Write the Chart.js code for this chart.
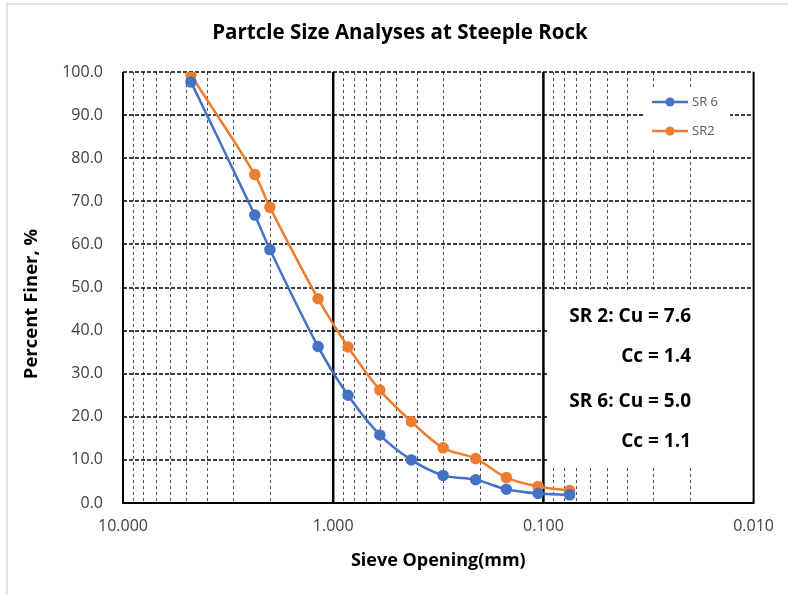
<!DOCTYPE html>
<html><head><meta charset="utf-8">
<script src="https://cdn.jsdelivr.net/npm/chart.js@4"></script>
<style>html,body{margin:0;padding:0;background:#fff;}canvas{display:block;}</style>
</head><body>
<canvas id="c" width="788" height="595"></canvas>
<script>
// ---- data ----
const sieveSizes = [4.75, 2.36, 2.0, 1.18, 0.85, 0.60, 0.425, 0.30, 0.21, 0.15, 0.106, 0.075];
const sr6Values  = [97.7, 66.8, 58.8, 36.3, 25.0, 15.8, 10.0, 6.4, 5.4, 3.2, 2.2, 1.9];
const sr2Values  = [99.3, 76.2, 68.6, 47.4, 36.2, 26.2, 18.9, 12.8, 10.3, 5.9, 3.85, 2.9];
const seriesNames = ['SR 6', 'SR2'];
const xTickValues = [10, 1, 0.1, 0.01];
const xTickLabels = ['10.000', '1.000', '0.100', '0.010'];
const yTickValues = [0, 10, 20, 30, 40, 50, 60, 70, 80, 90, 100];
const yTickLabels = ['0.0', '10.0', '20.0', '30.0', '40.0', '50.0', '60.0', '70.0', '80.0', '90.0', '100.0'];
const noteLines = ['SR 2: Cu = 7.6', 'Cc = 1.4', 'SR 6: Cu = 5.0', 'Cc = 1.1'];
const chartTitle = 'Partcle Size Analyses at Steeple Rock';
const xTitle = 'Sieve Opening(mm)';
const yTitle = 'Percent Finer, %';

const FONT = '"Open Sans", Lato, sans-serif';
const BLUE = '#4472C4', ORANGE = '#ED7D31';

function pts(xs, ys) { return xs.map((x, i) => ({ x: x, y: ys[i] })); }

const decor = {
  id: 'decor',
  beforeDraw(chart) {
    const ctx = chart.ctx;
    ctx.save();
    ctx.fillStyle = '#fff';
    ctx.fillRect(0, 0, chart.width, chart.height);
    ctx.strokeStyle = '#d9d9d9';
    ctx.lineWidth = 1.5;
    ctx.beginPath();
    ctx.moveTo(7, chart.height); ctx.lineTo(7, 4); ctx.lineTo(chart.width, 4);
    ctx.stroke();
    ctx.restore();
  },
  beforeDatasetsDraw(chart) {
    const { ctx, chartArea: a } = chart;
    const xs = chart.scales.x, ys = chart.scales.y;
    ctx.save();
    // minor vertical gridlines
    ctx.strokeStyle = '#505050';
    ctx.lineWidth = 1;
    ctx.setLineDash([3, 3]);
    for (let d = 0.01; d < 5; d *= 10) {
      for (let m = 2; m <= 9; m++) {
        const px = Math.round(xs.getPixelForValue(d * m)) + 0.5;
        ctx.beginPath(); ctx.moveTo(px, a.top); ctx.lineTo(px, a.bottom); ctx.stroke();
      }
    }
    // horizontal gridlines
    ctx.strokeStyle = '#000';
    ctx.lineWidth = 1.5;
    ctx.setLineDash([4, 2]);
    yTickValues.forEach(v => {
      if (v === 0) return;
      const py = Math.round(ys.getPixelForValue(v));
      ctx.beginPath(); ctx.moveTo(a.left, py); ctx.lineTo(a.right, py); ctx.stroke();
    });
    ctx.setLineDash([]);
    // white text box & legend box
    ctx.fillStyle = '#fff';
    ctx.fillRect(547, 290, 206, 176);
    ctx.fillRect(645, 87, 85, 60);
    // major vertical lines
    ctx.strokeStyle = '#000';
    ctx.lineWidth = 2.5;
    [1, 0.1].forEach(v => {
      const px = xs.getPixelForValue(v);
      ctx.beginPath(); ctx.moveTo(px, a.top); ctx.lineTo(px, a.bottom); ctx.stroke();
    });
    // borders
    ctx.lineWidth = 2;
    ctx.beginPath();
    ctx.moveTo(a.left, a.top); ctx.lineTo(a.left, a.bottom); ctx.lineTo(a.right, a.bottom); ctx.lineTo(a.right, a.top);
    ctx.stroke();
    ctx.restore();
  },
  afterDatasetsDraw(chart) {
    const ctx = chart.ctx;
    ctx.save();
    // legend
    const items = [[seriesNames[0], BLUE, 102], [seriesNames[1], ORANGE, 131]];
    items.forEach(([name, col, yy]) => {
      ctx.strokeStyle = col; ctx.lineWidth = 2.5;
      ctx.beginPath(); ctx.moveTo(652, yy); ctx.lineTo(688, yy); ctx.stroke();
      ctx.fillStyle = col;
      ctx.beginPath(); ctx.arc(670, yy, 4.5, 0, Math.PI * 2); ctx.fill();
      ctx.fillStyle = '#595959';
      ctx.font = '13px ' + FONT;
      ctx.textAlign = 'left'; ctx.textBaseline = 'middle';
      ctx.fillText(name, 692, yy);
    });
    // annotation text
    ctx.fillStyle = '#000';
    ctx.font = 'bold 19px ' + FONT;
    ctx.textAlign = 'right'; ctx.textBaseline = 'middle';
    const ny = [317, 357, 402, 442];
    noteLines.forEach((t, i) => ctx.fillText(t, 691, ny[i]));
    // y axis title
    ctx.translate(32, 304);
    ctx.rotate(-Math.PI / 2);
    ctx.textAlign = 'center';
    ctx.font = 'bold 18.5px ' + FONT;
    ctx.fillText(yTitle, 0, 0);
    ctx.restore();
  }
};

new Chart(document.getElementById('c'), {
  type: 'line',
  data: {
    datasets: [
      { label: seriesNames[0], data: pts(sieveSizes, sr6Values), borderColor: BLUE, backgroundColor: BLUE,
        pointBackgroundColor: BLUE, pointBorderColor: BLUE, borderWidth: 2.5, pointRadius: 4.5, tension: 0.35 },
      { label: seriesNames[1], data: pts(sieveSizes, sr2Values), borderColor: ORANGE, backgroundColor: ORANGE,
        pointBackgroundColor: ORANGE, pointBorderColor: ORANGE, borderWidth: 2.5, pointRadius: 4.5, tension: 0.35 }
    ]
  },
  options: {
    responsive: false,
    devicePixelRatio: 1,
    animation: false,
    layout: { padding: { left: 44, right: 32, top: 0, bottom: 0 } },
    plugins: {
      legend: { display: false },
      tooltip: { enabled: false },
      title: {
        display: true, text: chartTitle, color: '#000',
        font: { family: FONT, size: 20.5, weight: 'bold', lineHeight: 1.2 },
        padding: { top: 21, bottom: 26.4 }
      }
    },
    scales: {
      x: {
        type: 'logarithmic', reverse: true, min: 0.01, max: 10,
        afterBuildTicks: s => { s.ticks = xTickValues.map(v => ({ value: v })); },
        afterFit: s => { s.height = 92; },
        grid: { display: false, drawTicks: false },
        border: { display: false },
        ticks: {
          autoSkip: false, maxRotation: 0, padding: 14, color: '#404040',
          font: { family: FONT, size: 16 },
          callback: (v, i) => xTickLabels[i]
        },
        title: {
          display: true, text: xTitle, color: '#000',
          font: { family: FONT, size: 18, weight: 'bold', lineHeight: 1.2 },
          padding: { top: 0, bottom: 23 }
        }
      },
      y: {
        min: 0, max: 100,
        afterBuildTicks: s => { s.ticks = yTickValues.map(v => ({ value: v })); },
        afterFit: s => { s.width = 79; },
        grid: { display: false, drawTicks: false },
        border: { display: false },
        ticks: {
          autoSkip: false, padding: 20, color: '#404040',
          font: { family: FONT, size: 16 },
          callback: (v, i) => yTickLabels[i]
        },
        title: { display: false }
      }
    }
  },
  plugins: [decor]
});
</script>
</body></html>
